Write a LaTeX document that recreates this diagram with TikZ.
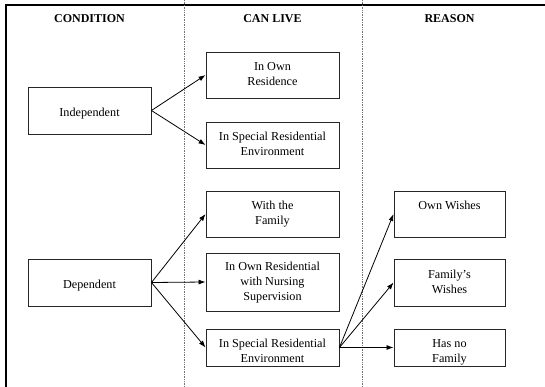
\documentclass[tikz,border=0pt]{standalone}
\usepackage{fontspec}
\setmainfont{Liberation Serif}
\usetikzlibrary{arrows.meta}

% stacked, centred lines inside a box
\newcommand{\lines}[1]{\begin{tabular}{@{}c@{}}#1\end{tabular}}
% same, lowered a little without changing the box size
\newcommand{\lowlines}[2]{\raisebox{-#1}[\height][\depth]{\lines{#2}}}

\begin{document}
\begin{tikzpicture}[x=1pt,y=-1pt,
  font=\fontsize{12.2}{15}\selectfont,
  box/.style={draw=black!85, line width=0.9pt, rectangle, inner sep=0pt},
  condbox/.style={box, minimum width=123pt},
  livebox/.style={box, minimum width=133pt},
  reasonbox/.style={box, minimum width=111pt},
  head/.style={font=\fontsize{12}{14}\selectfont\bfseries},
  link/.style={draw=black, line width=0.8pt, -{Latex[length=7pt,width=5pt]}},
  divider/.style={draw=black!55, line width=0.7pt, densely dotted},
  frame/.style={draw=black, line width=1.4pt}]

\useasboundingbox (0,0) rectangle (545,387);

% outer frame (top and left edges) and column dividers
\draw[frame] (545,5) -- (6,5) -- (6,387);
\draw[divider] (184,0) -- (184,387);
\draw[divider] (362,0) -- (362,387);

% column headings
\node[head] (hcond) at (89.5,19) {CONDITION};
\node[head] (hlive) at (272.5,19) {CAN LIVE};
\node[head] (hreas) at (449.5,19) {REASON};

% condition
\node[condbox, minimum height=47pt] (ind) at (89.5,110.5) {\lowlines{3pt}{Independent}};
\node[condbox, minimum height=47pt] (dep) at (89.5,282.5) {\lowlines{3pt}{Dependent}};

% can live
\node[livebox, minimum height=46pt] (own)   at (272.5,75)    {\lines{In Own\\Residence}};
\node[livebox, minimum height=46pt] (spec1) at (272.5,145)   {\lines{In Special Residential\\Environment}};
\node[livebox, minimum height=46pt] (fam)   at (272.5,214)   {\lines{With the\\Family}};
\node[livebox, minimum height=58pt] (nurs)  at (272.5,282)   {\lines{In Own Residential\\with Nursing\\Supervision}};
\node[livebox, minimum height=37pt] (spec2) at (272.5,347.5) {\lowlines{4pt}{In Special Residential\\Environment}};

% reason
\node[reasonbox, minimum height=46pt] (ownw)  at (449.5,214)   {\lowlines{-8pt}{Own Wishes}};
\node[reasonbox, minimum height=47pt] (famw)  at (449.5,282.5) {\lines{Family's\\Wishes}};
\node[reasonbox, minimum height=37pt] (hasno) at (449.5,347.5) {\lowlines{4pt}{Has no\\Family}};

% connectors
\draw[link] (ind.east) -- (own.west);
\draw[link] (ind.east) -- (spec1.west);
\draw[link] (dep.east) -- (fam.west);
\draw[link] (dep.east) -- (nurs.west);
\draw[link] (dep.east) -- (spec2.west);
\draw[link] (spec2.east) -- (ownw.west);
\draw[link] (spec2.east) -- (famw.west);
\draw[link] (spec2.east) -- (hasno.west);

\end{tikzpicture}
\end{document}
